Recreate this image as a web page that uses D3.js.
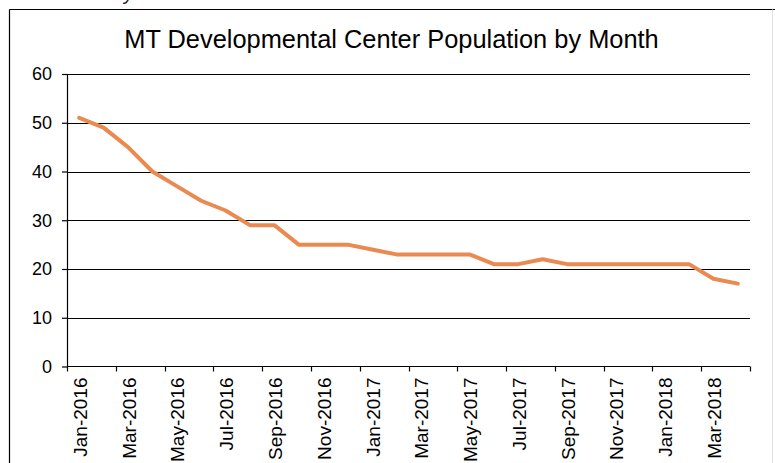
<!DOCTYPE html>
<html>
<head>
<meta charset="utf-8">
<script src="https://cdn.jsdelivr.net/npm/d3@7"></script>
<style>
  body { margin: 0; background: #fff; }
  svg { display: block; font-family: "Liberation Sans", Arial, sans-serif; }
</style>
</head>
<body>
<svg id="chart" width="775" height="463"></svg>
<script>
// Monthly population, Jan-2016 .. Apr-2018
const months = ['Jan-2016','Feb-2016','Mar-2016','Apr-2016','May-2016','Jun-2016','Jul-2016','Aug-2016',
  'Sep-2016','Oct-2016','Nov-2016','Dec-2016','Jan-2017','Feb-2017','Mar-2017','Apr-2017','May-2017',
  'Jun-2017','Jul-2017','Aug-2017','Sep-2017','Oct-2017','Nov-2017','Dec-2017','Jan-2018','Feb-2018',
  'Mar-2018','Apr-2018'];
const population = [51, 49, 45, 40, 37, 34, 32, 29, 29, 25, 25, 25, 24, 23, 23, 23, 23,
  21, 21, 22, 21, 21, 21, 21, 21, 21, 18, 17];
const yTicks = [0, 10, 20, 30, 40, 50, 60];
const title = 'MT Developmental Center Population by Month';

const svg = d3.select('#chart');
const plot = {left: 67, right: 750, top: 74, bottom: 366.5};

// chart frame (cut off at the bottom of the window)
svg.append('line').attr('x1', 9.5).attr('x2', 775).attr('y1', 9.5).attr('y2', 9.5)
  .attr('stroke', '#000').attr('stroke-width', 1.2);
svg.append('line').attr('x1', 9.5).attr('x2', 9.5).attr('y1', 9.5).attr('y2', 463)
  .attr('stroke', '#000').attr('stroke-width', 1.2);
svg.append('line').attr('x1', 772.5).attr('x2', 772.5).attr('y1', 9.5).attr('y2', 463)
  .attr('stroke', '#e2e2e2').attr('stroke-width', 1);

// stray descender from the text above the chart
svg.append('text').attr('x', 124).attr('y', 0).attr('font-size', 20)
  .attr('font-style', 'italic').attr('fill', '#222').text('y');

const x = d3.scaleBand().domain(months).range([plot.left, plot.right]).padding(0);
const y = d3.scaleLinear().domain([0, 60]).range([plot.bottom, plot.top]);

// horizontal gridlines
svg.append('g').selectAll('line').data(yTicks.filter(d => d > 0)).enter().append('line')
  .attr('x1', plot.left).attr('x2', plot.right)
  .attr('y1', d => Math.round(y(d)) + 0.5).attr('y2', d => Math.round(y(d)) + 0.5)
  .attr('stroke', '#000').attr('stroke-width', 1.2);

// y axis
const yAxis = svg.append('g').attr('transform', `translate(${plot.left},0)`)
  .call(d3.axisLeft(y).tickValues(yTicks).tickSize(5).tickPadding(10));
yAxis.select('.domain').remove();
yAxis.append('line').attr('x1', 0.5).attr('x2', 0.5).attr('y1', plot.top).attr('y2', plot.bottom)
  .attr('stroke', '#000').attr('stroke-width', 1.2);
yAxis.selectAll('.tick line').attr('stroke', '#000').attr('stroke-width', 1.2);
yAxis.selectAll('.tick text').attr('font-size', 18).attr('fill', '#000')
  .attr('font-family', '"Liberation Sans", Arial, sans-serif');

// x axis: labels at every other category centre, ticks on category boundaries
const labelMonths = months.filter((d, i) => i % 2 === 0);
const xAxis = svg.append('g').attr('transform', `translate(0,${plot.bottom})`)
  .call(d3.axisBottom(x).tickValues(labelMonths).tickSize(0));
xAxis.select('.domain').remove();
xAxis.append('line').attr('x1', plot.left).attr('x2', plot.right).attr('y1', 0).attr('y2', 0)
  .attr('stroke', '#000').attr('stroke-width', 1.2);
const tickPos = labelMonths.map(m => x(m)).concat([plot.right]);
xAxis.selectAll('.bound').data(tickPos).enter().append('line').attr('class', 'bound')
  .attr('x1', d => Math.round(d) + 0.5).attr('x2', d => Math.round(d) + 0.5)
  .attr('y1', 0).attr('y2', 5).attr('stroke', '#000').attr('stroke-width', 1.2);
xAxis.selectAll('.tick text')
  .attr('font-size', 19).attr('fill', '#000')
  .attr('font-family', '"Liberation Sans", Arial, sans-serif')
  .attr('text-anchor', 'end')
  .attr('transform', 'rotate(-90)')
  .attr('x', -11).attr('y', 1).attr('dy', '0.35em');

// population line
const line = d3.line()
  .x((d, i) => x(months[i]) + x.bandwidth() / 2)
  .y(d => y(d));
svg.append('path').datum(population)
  .attr('d', line)
  .attr('fill', 'none')
  .attr('stroke', '#EA8950')
  .attr('stroke-width', 4)
  .attr('stroke-linejoin', 'round')
  .attr('stroke-linecap', 'round');

// title
svg.append('text')
  .attr('x', 391.5).attr('y', 48)
  .attr('text-anchor', 'middle')
  .attr('font-size', 25.4)
  .attr('fill', '#000')
  .text(title);
</script>
</body>
</html>
